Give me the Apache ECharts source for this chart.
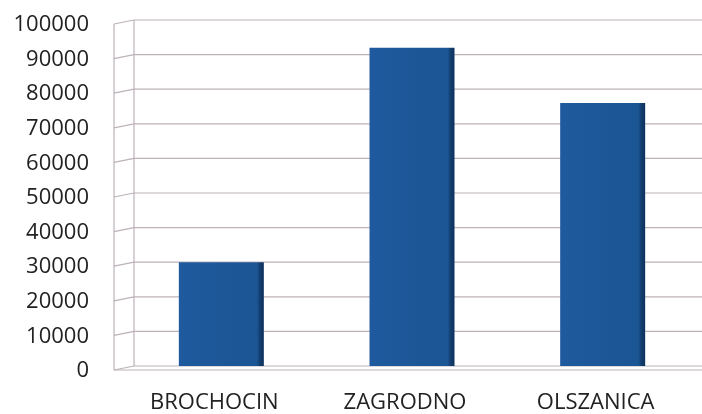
<!DOCTYPE html>
<html>
<head>
<meta charset="utf-8">
<script src="https://cdn.jsdelivr.net/npm/echarts@6/dist/echarts.min.js"></script>
<style>html,body{margin:0;padding:0;background:#fff;}#c{width:702px;height:414px;}</style>
</head>
<body>
<div id="c"></div>
<script>
var categories = ['BROCHOCIN', 'ZAGRODNO', 'OLSZANICA'];
var values = [30000, 92000, 76000];
var yTicks = [0, 10000, 20000, 30000, 40000, 50000, 60000, 70000, 80000, 90000, 100000];

var chart = echarts.init(document.getElementById('c'));
var lineColor = '#bcb2b9';
chart.setOption({
  animation: false,
  grid: { left: 126, right: 4, top: 20, bottom: 46 },
  xAxis: {
    type: 'category',
    data: categories,
    axisLine: { show: false },
    axisTick: { show: false },
    axisLabel: { color: '#222', fontFamily: 'Open Sans', fontSize: 22, margin: 26, padding: [0, 14, 0, 0] }
  },
  yAxis: {
    type: 'value',
    min: 0, max: 100000, interval: 10000,
    axisLine: { show: false },
    axisTick: { show: false },
    splitLine: { show: false },
    axisLabel: {
      color: '#222', fontFamily: 'Open Sans', fontSize: 22, margin: 37,
      verticalAlign: 'top', lineHeight: 10,
      formatter: function (v) { return String(v); }
    }
  },
  series: [
    {
      type: 'custom',
      silent: true,
      z: 1,
      data: yTicks.map(function (v) { return [0, v]; }),
      renderItem: function (params, api) {
        var cs = params.coordSys;
        var v = api.value(1);
        var yB = api.coord([0, v])[1];
        var backX = cs.x + 8, frontX = cs.x - 12;
        var yF = yB + 4;
        var st = { stroke: lineColor, lineWidth: 1.2 };
        var children = [
          { type: 'line', shape: { x1: frontX, y1: yF, x2: backX, y2: yB }, style: st },
          { type: 'line', shape: { x1: backX, y1: yB, x2: cs.x + cs.width + 10, y2: yB }, style: st }
        ];
        if (v === 0) {
          var yTop = api.coord([0, 100000])[1];
          children.push({ type: 'line', shape: { x1: backX, y1: yB, x2: backX, y2: yTop }, style: st });
          children.push({ type: 'line', shape: { x1: frontX, y1: yF, x2: frontX, y2: yTop + 4 }, style: st });
          children.push({ type: 'line', shape: { x1: frontX, y1: yF, x2: cs.x + cs.width + 10, y2: yF }, style: st });
        }
        return { type: 'group', children: children };
      }
    },
    {
      type: 'bar',
      z: 3,
      data: values,
      barWidth: 85,
      itemStyle: {
        color: new echarts.graphic.LinearGradient(0, 0, 1, 0, [
          { offset: 0, color: '#1f5a9e' },
          { offset: 0.92, color: '#1b5594' },
          { offset: 0.95, color: '#133f71' },
          { offset: 1, color: '#0e315d' }
        ])
      }
    }
  ]
});
</script>
</body>
</html>
